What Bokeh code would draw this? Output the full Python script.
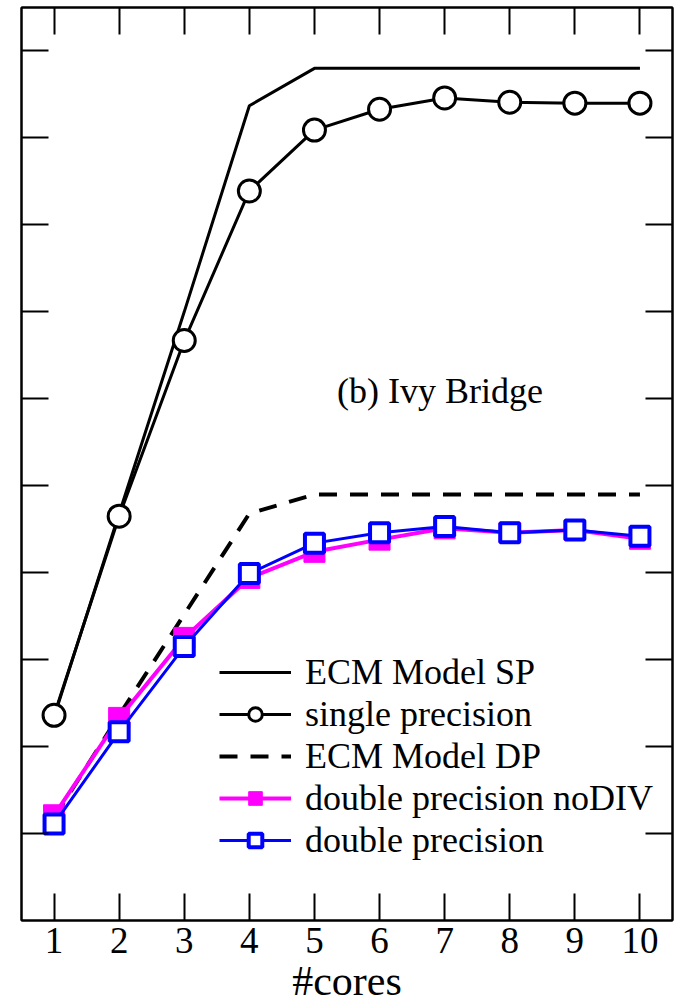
from bokeh.plotting import figure
from bokeh.models import (FixedTicker, LinearAxis, Legend, LegendItem, Label, Range1d)
from bokeh.embed import file_html
from bokeh.resources import INLINE

cores = [1, 2, 3, 4, 5, 6, 7, 8, 9, 10]
ecm_sp = [2.34, 4.68, 7.00, 9.37, 9.80, 9.80, 9.80, 9.80, 9.80, 9.80]
single_prec = [2.36, 4.65, 6.67, 8.39, 9.09, 9.33, 9.46, 9.41, 9.40, 9.40]
ecm_dp = [1.18, 2.36, 3.52, 4.68, 4.90, 4.90, 4.90, 4.90, 4.90, 4.90]
dp_nodiv = [1.21, 2.33, 3.25, 3.94, 4.24, 4.38, 4.51, 4.46, 4.49, 4.39]
dp = [1.11, 2.17, 3.15, 3.99, 4.34, 4.46, 4.53, 4.46, 4.49, 4.42]
y_ticks = [1, 2, 3, 4, 5, 6, 7, 8, 9, 10]

FONT = "Liberation Serif"

p = figure(width=676, height=1006, output_backend="svg", toolbar_location=None,
           x_range=Range1d(0.5, 10.5), y_range=Range1d(0, 10.5),
           min_border_left=21, min_border_right=4, min_border_top=7, min_border_bottom=0)
p.xgrid.visible = False
p.ygrid.visible = False
p.outline_line_color = "black"
p.outline_line_width = 2

xt = FixedTicker(ticks=cores)
yt = FixedTicker(ticks=y_ticks)

def style(ax, labels, ticks=None):
    ax.major_tick_in = 27
    ax.major_tick_out = 0
    ax.minor_tick_line_color = None
    ax.major_tick_line_width = 2
    ax.axis_line_width = 2
    ax.axis_line_color = "black"
    ax.major_tick_line_color = "black"
    if not labels:
        ax.major_label_overrides = {t: "" for t in ticks}
        ax.major_label_text_font_size = "0px"
        ax.major_label_standoff = 0

p.xaxis.ticker = xt
p.yaxis.ticker = yt
style(p.xaxis[0], True)
style(p.yaxis[0], False, y_ticks)
p.xaxis.major_label_text_font = FONT
p.xaxis.major_label_text_font_size = "37px"
p.xaxis.major_label_text_color = "black"
p.xaxis.major_label_standoff = 7
p.xaxis.axis_label = "#cores"
p.xaxis.axis_label_text_font = FONT
p.xaxis.axis_label_text_font_size = "42px"
p.xaxis.axis_label_text_font_style = "normal"
p.xaxis.axis_label_text_color = "black"
p.xaxis.axis_label_standoff = 2

top = LinearAxis(ticker=FixedTicker(ticks=cores))
style(top, False, cores)
p.add_layout(top, "above")
right = LinearAxis(ticker=FixedTicker(ticks=y_ticks))
style(right, False, y_ticks)
p.add_layout(right, "right")

r_ecm_sp = p.line(cores, ecm_sp, line_color="black", line_width=3)
r_sp_l = p.line(cores, single_prec, line_color="black", line_width=3)
r_sp_m = p.scatter(cores, single_prec, marker="circle", size=22, fill_color="white",
                   line_color="black", line_width=3)
r_ecm_dp = p.line(cores, ecm_dp, line_color="black", line_width=4, line_dash="18 13")
r_nd_l = p.line(cores, dp_nodiv, line_color="magenta", line_width=4)
r_nd_m = p.scatter(cores, dp_nodiv, marker="square", size=21, fill_color="magenta",
                   line_color="magenta", line_width=1)
r_dp_l = p.line(cores, dp, line_color="blue", line_width=3)
r_dp_m = p.scatter(cores, dp, marker="square", size=19, fill_color="white",
                   line_color="blue", line_width=4)

legend = Legend(items=[
    LegendItem(label="ECM Model SP", renderers=[r_ecm_sp]),
    LegendItem(label="single precision", renderers=[r_sp_l, r_sp_m]),
    LegendItem(label="ECM Model DP", renderers=[r_ecm_dp]),
    LegendItem(label="double precision noDIV", renderers=[r_nd_l, r_nd_m]),
    LegendItem(label="double precision", renderers=[r_dp_l, r_dp_m]),
], location=(198, 59))
legend.background_fill_alpha = 0
legend.border_line_color = None
legend.label_text_font = FONT
legend.label_text_font_size = "36px"
legend.label_text_color = "black"
legend.glyph_width = 72
legend.glyph_height = 34
legend.label_height = 34
legend.spacing = 0
legend.padding = 0
legend.margin = 0
legend.label_standoff = 14
p.add_layout(legend, "center")

p.add_layout(Label(x=6.93, y=6.09, text="(b) Ivy Bridge", text_font=FONT,
                   text_font_size="36px", text_align="center", text_baseline="middle",
                   text_color="black"))

open("out.html", "w").write(file_html(p, INLINE))
